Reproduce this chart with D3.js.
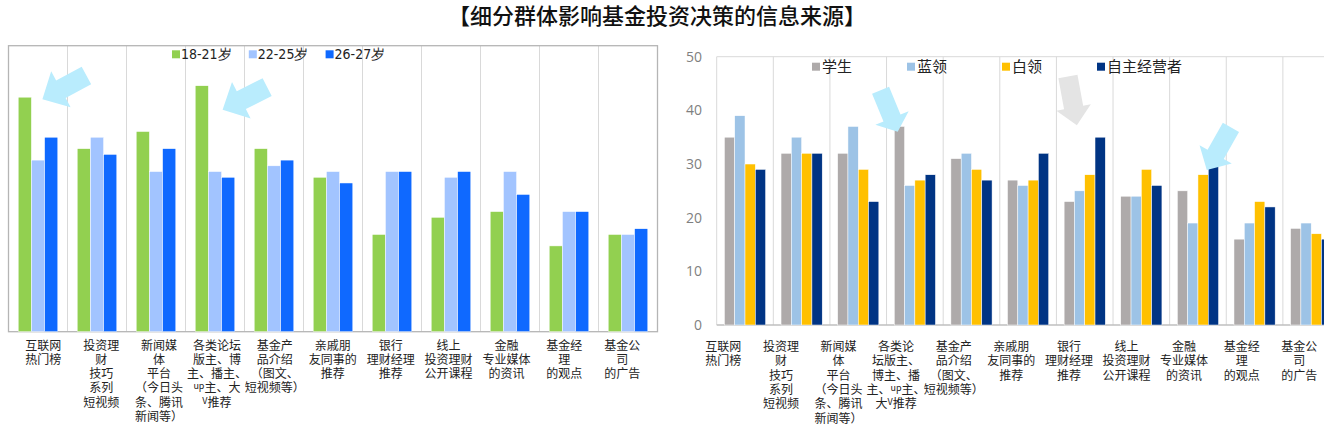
<!DOCTYPE html>
<html>
<head>
<meta charset="utf-8">
<script src="https://cdn.jsdelivr.net/npm/d3@7"></script>
<style>
  body { margin: 0; background: #fff; }
  svg { display: block; font-family: "Noto Sans CJK SC", sans-serif; }
</style>
</head>
<body>
<svg width="1324" height="433"></svg>
<script>
const title = "【细分群体影响基金投资决策的信息来源】";

// category labels, already broken into lines as in the picture
const leftLabels = [
  ["互联网", "热门榜"],
  ["投资理", "财", "技巧", "系列", "短视频"],
  ["新闻媒", "体", "平台", "（今日头", "条、腾讯", "新闻等）"],
  ["各类论坛", "版主、博", "主、播主、", "up主、大", "V推荐"],
  ["基金产", "品介绍", "（图文、", "短视频等）"],
  ["亲戚朋", "友同事的", "推荐"],
  ["银行", "理财经理", "推荐"],
  ["线上", "投资理财", "公开课程"],
  ["金融", "专业媒体", "的资讯"],
  ["基金经", "理", "的观点"],
  ["基金公", "司", "的广告"]
];
const rightLabels = [
  ["互联网", "热门榜"],
  ["投资理", "财", "技巧", "系列", "短视频"],
  ["新闻媒", "体", "平台", "（今日头", "条、腾讯", "新闻等）"],
  ["各类论", "坛版主、", "博主、播", "主、up主、", "大V推荐"],
  ["基金产", "品介绍", "（图文、", "短视频等）"],
  ["亲戚朋", "友同事的", "推荐"],
  ["银行", "理财经理", "推荐"],
  ["线上", "投资理财", "公开课程"],
  ["金融", "专业媒体", "的资讯"],
  ["基金经", "理", "的观点"],
  ["基金公", "司", "的广告"]
];

// left chart: age groups
const ageGroups = ["18-21岁", "22-25岁", "26-27岁"];
const age1821 = [41, 32, 35, 43, 32, 27, 17, 20, 21, 15, 17];
const age2225 = [30, 34, 28, 28, 29, 28, 28, 27, 28, 21, 17];
const age2627 = [34, 31, 32, 27, 30, 26, 28, 28, 24, 21, 18];

// right chart: occupation groups
const jobGroups = ["学生", "蓝领", "白领", "自主经营者"];
const student      = [35, 32, 32, 37, 31, 27, 23, 24, 25, 16, 18];
const blueCollar   = [39, 35, 37, 26, 32, 26, 25, 24, 19, 19, 19];
const whiteCollar  = [30, 32, 29, 27, 29, 27, 28, 29, 28, 23, 17];
const selfEmployed = [29, 32, 23, 28, 27, 32, 35, 26, 30, 22, 16];

const yTicks = [0, 10, 20, 30, 40, 50];

const svg = d3.select("svg");

svg.append("text")
    .attr("x", 657)
    .attr("y", 24)
    .attr("text-anchor", "middle")
    .attr("font-size", 22)
    .attr("font-weight", 500)
    .attr("fill", "#111")
    .text(title);

// block arrow, tip at origin pointing along +x
function arrowPath(len, shaftW, headW, headL) {
  const pts = [[0, 0], [-headL, -headW / 2], [-headL, -shaftW / 2], [-len, -shaftW / 2],
               [-len, shaftW / 2], [-headL, shaftW / 2], [-headL, headW / 2]];
  return "M" + pts.map(p => p.join(",")).join("L") + "Z";
}

function drawChart(cfg) {
  const n = cfg.labels.length;
  const x0 = d3.scaleBand().domain(d3.range(n)).range(cfg.xRange).padding(0);
  const x1 = d3.scaleBand().domain(d3.range(cfg.series.length))
      .range([0, x0.bandwidth()]).paddingInner(0).paddingOuter(cfg.outer);
  // the label boxes sit on a slightly narrower grid than the bars
  const xl = d3.scaleBand().domain(d3.range(n)).range(cfg.labelRange).padding(0);
  const y = d3.scaleLinear().domain([0, 50]).range(cfg.yRange);

  const g = svg.append("g");

  // vertical separators between categories
  g.selectAll(".sep")
    .data(d3.range(cfg.firstSep, n))
    .join("line")
      .attr("x1", i => x0(i)).attr("x2", i => x0(i))
      .attr("y1", y(50)).attr("y2", y(0))
      .attr("stroke", "#d9d9d9").attr("stroke-width", 1);

  cfg.frame(g, x0, y);

  const groups = g.selectAll(".grp")
    .data(d3.range(n))
    .join("g")
      .attr("transform", i => `translate(${x0(i)},0)`);

  groups.selectAll("rect")
    .data(i => cfg.series.map((s, k) => ({ k, v: s[i] })))
    .join("rect")
      .attr("x", d => x1(d.k))
      .attr("width", x1.bandwidth())
      .attr("y", d => y(d.v))
      .attr("height", d => y(0) - y(d.v))
      .attr("fill", d => cfg.colors[d.k])
      .attr("stroke", "#fff")
      .attr("stroke-width", 0.5);

  // category labels
  const lab = g.selectAll(".lab")
    .data(cfg.labels)
    .join("text")
      .attr("text-anchor", "middle")
      .attr("font-size", 12)
      .attr("fill", "#222");
  lab.each(function (lines, i) {
    const t = d3.select(this);
    lines.forEach((line, j) => {
      const ts = t.append("tspan")
          .attr("x", xl(i) + xl.bandwidth() / 2)
          .attr("y", cfg.labelY + j * 14.3);
      // latin parts (up, V) appear small and raised
      line.split(/([A-Za-z]+)/).filter(s => s.length).forEach(part => {
        if (/^[A-Za-z]+$/.test(part)) {
          ts.append("tspan").attr("font-size", 9).attr("baseline-shift", "35%").text(part);
        } else {
          ts.append("tspan").text(part);
        }
      });
    });
  });

  // legend
  const leg = g.selectAll(".leg")
    .data(cfg.names)
    .join("g")
      .attr("transform", (d, k) => `translate(${cfg.legend.x + k * cfg.legend.step},${cfg.legend.y})`);
  leg.append("rect")
      .attr("x", 0).attr("y", -4).attr("width", 8).attr("height", 8)
      .attr("fill", (d, k) => cfg.colors[k]);
  leg.append("text")
      .attr("x", cfg.legend.gap).attr("y", cfg.legend.fontSize * 0.36)
      .attr("font-size", cfg.legend.fontSize)
      .attr("font-family", cfg.legend.font)
      .attr("fill", "#222")
      .text(d => d);

  // annotation arrows anchored on bars
  cfg.arrows.forEach(a => {
    const tipX = x0(a.cat) + x1(a.k) + x1.bandwidth() / 2 + a.dx;
    const tipY = y(cfg.series[a.k][a.cat]) + a.dy;
    g.append("path")
      .attr("d", arrowPath(a.len, a.shaft, a.head, a.headL))
      .attr("transform", `translate(${tipX},${tipY}) rotate(${a.angle})`)
      .attr("fill", a.color);
  });

  return { x0, y };
}

// left chart
drawChart({
  labels: leftLabels,
  series: [age1821, age2225, age2627],
  names: ageGroups,
  colors: ["#92d050", "#a2c4ff", "#0f69ff"],
  xRange: [8.5, 657.5],
  labelRange: [14.3, 651.2],
  yRange: [331.7, 45.7],
  outer: 0.735,
  firstSep: 1,
  labelY: 349.5,
  legend: { x: 172, y: 54.3, step: 76.8, gap: 9, fontSize: 14, font: "'Liberation Sans Narrow', 'DejaVu Sans Condensed', sans-serif" },
  frame: (g, x0, y) => {
    g.append("rect")
      .attr("x", x0.range()[0]).attr("y", y(50))
      .attr("width", x0.range()[1] - x0.range()[0]).attr("height", y(0) - y(50))
      .attr("fill", "none").attr("stroke", "#b5b5b5").attr("stroke-width", 1.3);
  },
  arrows: [
    { cat: 0, k: 0, dx: 17.6, dy: 2, angle: 151.7, len: 50, shaft: 20, head: 41, headL: 21, color: "#b9ecfd" },
    { cat: 3, k: 0, dx: 20.8, dy: 24, angle: 153, len: 50, shaft: 20, head: 41, headL: 21, color: "#b9ecfd" }
  ]
});

// right chart
const right = drawChart({
  labels: rightLabels,
  series: [student, blueCollar, whiteCollar, selfEmployed],
  names: jobGroups,
  colors: ["#aeaaaa", "#9dc3e6", "#ffc000", "#003484"],
  xRange: [716.7, 1339.5],
  labelRange: [694.5, 1328.1],
  yRange: [325, 56.7],
  outer: 0.75,
  firstSep: 0,
  labelY: 351,
  legend: { x: 812, y: 66.7, step: 95, gap: 10, fontSize: 15, font: "'Noto Sans CJK SC', sans-serif" },
  frame: (g, x0, y) => {
    g.append("line")
      .attr("x1", x0.range()[0]).attr("x2", x0.range()[1])
      .attr("y1", y(50)).attr("y2", y(50))
      .attr("stroke", "#d9d9d9");
    g.append("line")
      .attr("x1", x0.range()[0]).attr("x2", x0.range()[1])
      .attr("y1", y(0)).attr("y2", y(0))
      .attr("stroke", "#bfbfbf").attr("stroke-width", 1.3);
  },
  arrows: [
    { cat: 3, k: 0, dx: -1.7, dy: 5.4, angle: 67.6, len: 45, shaft: 18.4, head: 36, headL: 15, color: "#b9ecfd" },
    { cat: 6, k: 3, dx: -23.3, dy: -12, angle: 79.6, len: 49.5, shaft: 19.4, head: 35, headL: 18, color: "#e4e4e4" },
    { cat: 8, k: 3, dx: -6.6, dy: 6, angle: 119.5, len: 49, shaft: 18.6, head: 37, headL: 18, color: "#b9ecfd" }
  ]
});

svg.append("g")
    .attr("transform", "translate(702,0)")
    .call(d3.axisLeft(right.y).tickValues(yTicks).tickSize(0).tickPadding(0))
    .call(g => g.select(".domain").remove())
    .call(g => g.selectAll("text")
        .attr("font-size", 14)
        .attr("font-family", "'Open Sans', sans-serif")
        .attr("fill", "#7f7f7f"));
</script>
</body>
</html>
